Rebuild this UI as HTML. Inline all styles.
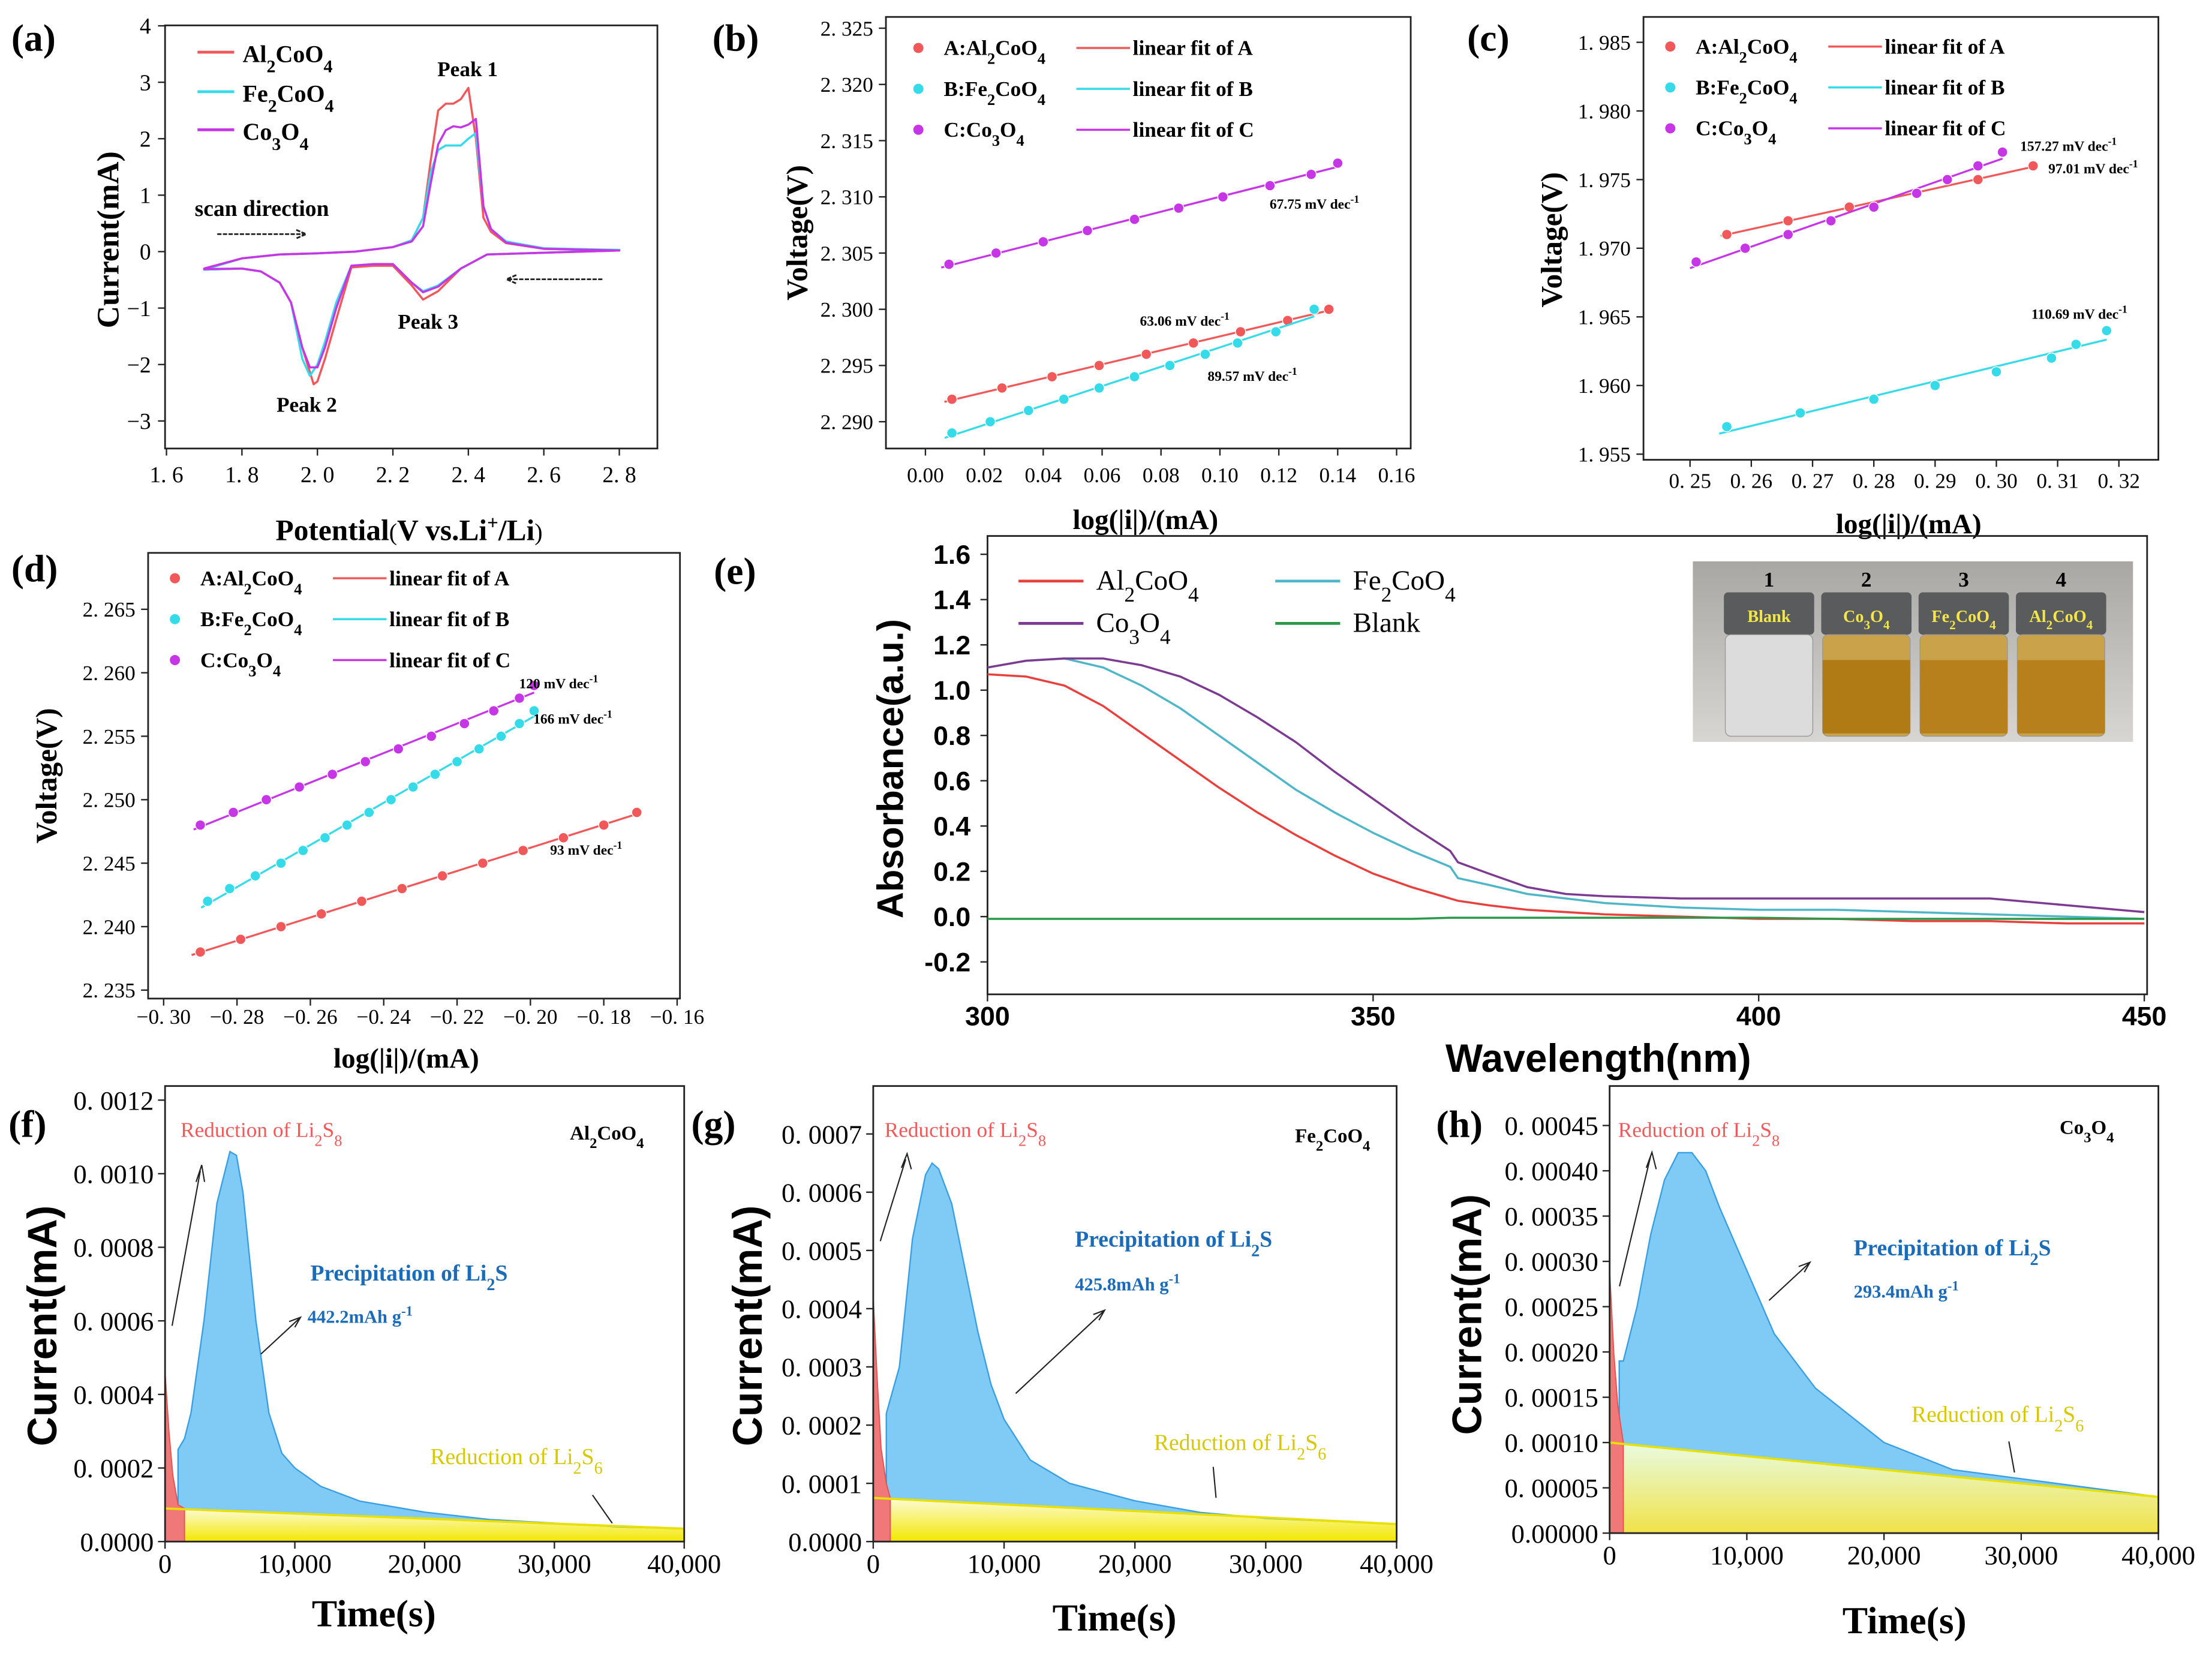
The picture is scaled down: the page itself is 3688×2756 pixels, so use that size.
<!DOCTYPE html>
<html><head><meta charset="utf-8"><style>
html,body{margin:0;padding:0;background:#fff;}
svg{display:block;}
text{font-family:"Liberation Serif",serif;}
.sans{font-family:"Liberation Sans",sans-serif;}
</style></head><body>
<svg id="fig" xmlns="http://www.w3.org/2000/svg" width="3688" height="2756" viewBox="0 0 1568 1172" preserveAspectRatio="none">
<defs>
<linearGradient id="yel" x1="0" y1="0" x2="0" y2="1"><stop offset="0" stop-color="#fdfbd8"/><stop offset="1" stop-color="#f2e800"/></linearGradient>
<linearGradient id="yelh" x1="0" y1="0" x2="0" y2="1"><stop offset="0" stop-color="#e8fbe0"/><stop offset="1" stop-color="#f0e24a"/></linearGradient>
<linearGradient id="photo" x1="0" y1="0" x2="0" y2="1"><stop offset="0" stop-color="#a9a7a3"/><stop offset="1" stop-color="#d8d6d2"/></linearGradient>
</defs>
<g font-weight="bold">
<text x="8" y="36" font-size="27">(a)</text>
<text x="505" y="36" font-size="27">(b)</text>
<text x="1040" y="36" font-size="27">(c)</text>
<text x="8" y="412" font-size="27">(d)</text>
<text x="506" y="414" font-size="27">(e)</text>
<text x="6" y="806" font-size="27">(f)</text>
<text x="490" y="806" font-size="27">(g)</text>
<text x="1018" y="806" font-size="27">(h)</text>

<text transform="translate(84,170) rotate(-90)" text-anchor="middle" font-size="22">Current(mA)</text>
<text x="290" y="383" text-anchor="middle" font-size="21">Potential<tspan font-weight="normal" font-size="17">(</tspan>V vs.Li<tspan baseline-shift="super" font-size="14">+</tspan>/Li<tspan font-weight="normal" font-size="17">)</tspan></text>
<text transform="translate(572,165) rotate(-90)" text-anchor="middle" font-size="21">Voltage(V)</text>
<text x="812" y="375" text-anchor="middle" font-size="20">log(|i|)/(mA)</text>
<text transform="translate(1107,170) rotate(-90)" text-anchor="middle" font-size="21">Voltage(V)</text>
<text x="1353" y="378" text-anchor="middle" font-size="20">log(|i|)/(mA)</text>
<text transform="translate(40,550) rotate(-90)" text-anchor="middle" font-size="21">Voltage(V)</text>
<text x="288" y="757" text-anchor="middle" font-size="20">log(|i|)/(mA)</text>
<text class="sans" transform="translate(640,545) rotate(-90)" text-anchor="middle" font-size="26">Absorbance(a.u.)</text>
<text class="sans" x="1133" y="760" text-anchor="middle" font-size="28">Wavelength(nm)</text>
<text class="sans" transform="translate(40,940) rotate(-90)" text-anchor="middle" font-size="29">Current(mA)</text>
<text x="265" y="1153" text-anchor="middle" font-size="27">Time(s)</text>
<text class="sans" transform="translate(540,940) rotate(-90)" text-anchor="middle" font-size="29">Current(mA)</text>
<text x="790" y="1156" text-anchor="middle" font-size="27">Time(s)</text>
<text class="sans" transform="translate(1050,932) rotate(-90)" text-anchor="middle" font-size="29">Current(mA)</text>
<text x="1350" y="1158" text-anchor="middle" font-size="27">Time(s)</text>
</g>
</svg>
<script>
// ---------- data ----------
const cvRedV=[1.70,1.80,1.90,2.00,2.10,2.20,2.25,2.28,2.30,2.32,2.34,2.36,2.38,2.40,2.42,2.44,2.46,2.50,2.60,2.80,2.80,2.60,2.45,2.38,2.32,2.28,2.25,2.20,2.15,2.09,2.05,2.02,2.00,1.99,1.96,1.93,1.90,1.85,1.80,1.70];
const cvRedI=[-0.30,-0.12,-0.05,-0.03,0.0,0.08,0.2,0.6,1.6,2.5,2.62,2.62,2.7,2.9,2.0,0.6,0.35,0.15,0.05,0.02,0.02,-0.02,-0.05,-0.3,-0.7,-0.85,-0.6,-0.25,-0.25,-0.28,-1.2,-1.9,-2.3,-2.35,-1.7,-0.9,-0.55,-0.35,-0.3,-0.32];
const cvFeV=[1.70,1.80,1.90,2.00,2.10,2.20,2.25,2.28,2.30,2.32,2.34,2.36,2.38,2.40,2.42,2.44,2.46,2.50,2.60,2.80,2.80,2.60,2.45,2.38,2.32,2.28,2.25,2.20,2.15,2.09,2.05,2.02,2.00,1.98,1.96,1.93,1.90,1.85,1.80,1.70];
const cvFeI=[-0.32,-0.12,-0.05,-0.03,0.0,0.08,0.2,0.6,1.4,1.8,1.88,1.88,1.88,2.0,2.1,0.8,0.4,0.18,0.06,0.03,0.03,-0.02,-0.05,-0.3,-0.6,-0.7,-0.55,-0.22,-0.22,-0.25,-0.9,-1.6,-2.0,-2.2,-1.9,-0.9,-0.55,-0.35,-0.3,-0.32];
const cvCoV=[1.70,1.80,1.90,2.00,2.10,2.20,2.25,2.28,2.30,2.32,2.34,2.36,2.38,2.40,2.42,2.44,2.46,2.50,2.60,2.80,2.80,2.60,2.45,2.38,2.32,2.28,2.25,2.20,2.15,2.09,2.05,2.02,2.00,1.98,1.96,1.93,1.90,1.85,1.80,1.70];
const cvCoI=[-0.30,-0.12,-0.05,-0.03,0.0,0.08,0.18,0.45,1.2,1.9,2.15,2.22,2.2,2.25,2.35,0.8,0.4,0.16,0.05,0.02,0.02,-0.02,-0.05,-0.3,-0.62,-0.72,-0.55,-0.22,-0.22,-0.25,-1.0,-1.7,-2.05,-2.05,-1.7,-0.9,-0.55,-0.35,-0.3,-0.31];
const cvXTicks=[1.6,1.8,2.0,2.2,2.4,2.6,2.8];
const cvYTicks=[-3,-2,-1,0,1,2,3,4];

const bAx=[0.009,0.026,0.043,0.059,0.075,0.091,0.107,0.123,0.137];
const bAy=[2.292,2.293,2.294,2.295,2.296,2.297,2.298,2.299,2.300];
const bBx=[0.009,0.022,0.035,0.047,0.059,0.071,0.083,0.095,0.106,0.119,0.132];
const bBy=[2.289,2.290,2.291,2.292,2.293,2.294,2.295,2.296,2.297,2.298,2.300];
const bCx=[0.008,0.024,0.040,0.055,0.071,0.086,0.101,0.117,0.131,0.140];
const bCy=[2.304,2.305,2.306,2.307,2.308,2.309,2.310,2.311,2.312,2.313];
const bXTicks=[0,0.02,0.04,0.06,0.08,0.10,0.12,0.14,0.16];
const bYTicks=[2.290,2.295,2.300,2.305,2.310,2.315,2.320,2.325];

const cAx=[0.256,0.266,0.276,0.287,0.297,0.306];
const cAy=[1.971,1.972,1.973,1.974,1.975,1.976];
const cBx=[0.256,0.268,0.280,0.290,0.300,0.309,0.313,0.318];
const cBy=[1.957,1.958,1.959,1.960,1.961,1.962,1.963,1.964];
const cCx=[0.251,0.259,0.266,0.273,0.280,0.287,0.292,0.297,0.301];
const cCy=[1.969,1.970,1.971,1.972,1.973,1.974,1.975,1.976,1.977];
const cXTicks=[0.25,0.26,0.27,0.28,0.29,0.30,0.31,0.32];
const cYTicks=[1.955,1.960,1.965,1.970,1.975,1.980,1.985];

const dAx=[-0.290,-0.279,-0.268,-0.257,-0.246,-0.235,-0.224,-0.213,-0.202,-0.191,-0.180,-0.171];
const dAy=[2.238,2.239,2.240,2.241,2.242,2.243,2.244,2.245,2.246,2.247,2.248,2.249];
const dBx=[-0.288,-0.282,-0.275,-0.268,-0.262,-0.256,-0.250,-0.244,-0.238,-0.232,-0.226,-0.220,-0.214,-0.208,-0.203,-0.199];
const dBy=[2.242,2.243,2.244,2.245,2.246,2.247,2.248,2.249,2.250,2.251,2.252,2.253,2.254,2.255,2.256,2.257];
const dCx=[-0.290,-0.281,-0.272,-0.263,-0.254,-0.245,-0.236,-0.227,-0.218,-0.210,-0.203,-0.199];
const dCy=[2.248,2.249,2.250,2.251,2.252,2.253,2.254,2.255,2.256,2.257,2.258,2.259];
const dXTicks=[-0.30,-0.28,-0.26,-0.24,-0.22,-0.20,-0.18,-0.16];
const dYTicks=[2.235,2.240,2.245,2.250,2.255,2.260,2.265];

const wl=[300,305,310,315,320,325,330,335,340,345,350,355,360,361,365,370,375,380,390,400,410,420,430,440,450];
const absAl=[1.07,1.06,1.02,0.93,0.81,0.69,0.57,0.46,0.36,0.27,0.19,0.13,0.08,0.07,0.05,0.03,0.02,0.01,0.0,-0.01,-0.01,-0.02,-0.02,-0.03,-0.03];
const absFe=[1.10,1.13,1.14,1.10,1.02,0.92,0.80,0.68,0.56,0.46,0.37,0.29,0.22,0.17,0.14,0.10,0.08,0.06,0.04,0.03,0.03,0.02,0.01,0.0,-0.01];
const absCo=[1.10,1.13,1.14,1.14,1.11,1.06,0.98,0.88,0.77,0.64,0.52,0.40,0.29,0.24,0.19,0.13,0.10,0.09,0.08,0.08,0.08,0.08,0.08,0.05,0.02];
const absBlank=[-0.01,-0.01,-0.01,-0.01,-0.01,-0.01,-0.01,-0.01,-0.01,-0.01,-0.01,-0.01,-0.005,-0.005,-0.005,-0.005,-0.005,-0.005,-0.005,-0.005,-0.01,-0.01,-0.01,-0.01,-0.01];
const eXTicks=[300,350,400,450];
const eYTicks=[-0.2,0,0.2,0.4,0.6,0.8,1.0,1.2,1.4,1.6];

const fRedT=[0,300,600,1000,1500];
const fRedI=[0.00046,0.0003,0.00018,0.0001,0.00009];
const fBlueT=[1000,1500,2000,3000,4000,5000,5500,6000,7000,8000,9000,10000,12000,15000,20000,25000,30000,35000,40000];
const fBlueI=[0.00025,0.00028,0.00035,0.0006,0.00092,0.00106,0.00105,0.00095,0.0006,0.00035,0.00024,0.0002,0.00015,0.00011,0.00008,0.00006,0.00005,0.00004,0.000035];
const fBaseT=[0,40000];
const fBaseI=[0.00009,0.000035];
const fYTicks=[0,0.0002,0.0004,0.0006,0.0008,0.0010,0.0012];

const gRedT=[0,300,600,1000,1300];
const gRedI=[0.00042,0.00028,0.00016,0.0001,0.000075];
const gBlueT=[1000,2000,3000,4000,4500,5000,6000,7000,8000,9000,10000,12000,15000,20000,25000,30000,40000];
const gBlueI=[0.00022,0.0003,0.00052,0.00063,0.00065,0.00064,0.00058,0.00047,0.00036,0.00027,0.00021,0.00014,0.0001,0.00007,0.00005,0.00004,0.00003];
const gBaseT=[0,40000];
const gBaseI=[0.000075,0.00003];
const gYTicks=[0,0.0001,0.0002,0.0003,0.0004,0.0005,0.0006,0.0007];

const hRedT=[0,300,600,1000];
const hRedI=[0.00029,0.0002,0.00014,0.0001];
const hBlueT=[700,1000,2000,3000,4000,5000,6000,7000,8000,10000,12000,15000,20000,25000,30000,40000];
const hBlueI=[0.00019,0.00019,0.00025,0.00033,0.00039,0.00042,0.00042,0.0004,0.00036,0.00029,0.00022,0.00016,0.0001,0.00007,0.00006,0.00004];
const hBaseT=[0,40000];
const hBaseI=[0.0001,0.00004];
const hYTicks=[0,0.00005,0.0001,0.00015,0.0002,0.00025,0.0003,0.00035,0.0004,0.00045];
const tXTicks=[0,10000,20000,30000,40000];

// ---------- helpers ----------
const NS='http://www.w3.org/2000/svg';
const svg=document.getElementById('fig');
function mk(tag,attrs,parent){const e=document.createElementNS(NS,tag);for(const k in attrs)e.setAttribute(k,attrs[k]);(parent||svg).appendChild(e);return e;}
function lin(d0,d1,r0,r1){return v=>r0+(v-d0)*(r1-r0)/(d1-d0);}
function pd(xs,ys,sx,sy){return xs.map((x,i)=>(i?'L':'M')+sx(x).toFixed(2)+','+sy(ys[i]).toFixed(2)).join('');}
function spaced(s){return s.replace('.','. ');}
function axes(p,box,sx,sy,xt,yt,fx,fy,o){
  const g=mk('g',{});
  
  
  const fr=mk('rect',{x:box[0],y:box[1],width:box[2]-box[0],height:box[3]-box[1],fill:'none',stroke:'#222','stroke-width':1.2},g);
  
  
  xt.forEach(v=>{const x=sx(v);
    mk('line',{x1:x,x2:x,y1:box[3],y2:box[3]+5,stroke:'#222'},g);
    const t=mk('text',{x:x,y:box[3]+o.xo,'text-anchor':'middle','font-size':o.fs,'font-weight':o.fw||'normal','class':o.cls||''},g);
    t.textContent=fx(v);
    
    
  });
  yt.forEach(v=>{const y=sy(v);
    mk('line',{x1:box[0],x2:box[0]-5,y1:y,y2:y,stroke:'#222'},g);
    const t=mk('text',{x:box[0]-o.yo,y:y+o.fs*0.35,'text-anchor':'end','font-size':o.fs,'font-weight':o.fw||'normal','class':o.cls||''},g);
    t.textContent=fy(v);
    
    
  });
}
function fit(xs,ys){const n=xs.length;let mx=0,my=0;xs.forEach((x,i)=>{mx+=x;my+=ys[i];});mx/=n;my/=n;let a=0,b=0;xs.forEach((x,i)=>{a+=(x-mx)*(ys[i]-my);b+=(x-mx)*(x-mx);});const k=a/b;return [k,my-k*mx];}
function series(p,name,xs,ys,sx,sy,col){
  const [k,c]=fit(xs,ys);
  const x0=xs[0]-(xs[xs.length-1]-xs[0])*0.02, x1=xs[xs.length-1];
  const l=mk('line',{x1:sx(x0),y1:sy(k*x0+c),x2:sx(x1),y2:sy(k*x1+c),stroke:col,'stroke-width':1.4});
  
  
  xs.forEach((x,i)=>{
    const d=mk('circle',{cx:sx(x),cy:sy(ys[i]),r:3.6,fill:col,stroke:'#fff','stroke-width':0.6});
    
    
  });
}
function txt(x,y,s,attrs,name){const t=mk('text',Object.assign({x:x,y:y},attrs));t.innerHTML=s;
  
  
  return t;}
const SUB=(n)=>'<tspan baseline-shift="sub" font-size="75%">'+n+'</tspan>';
const RED='#f0585a', CYAN='#35dbe8', MAG='#c636e6';

// ---------- (a) CV ----------
(function(){
  const box=[117,18,466,318];
  const sx=lin(1.6,2.8,118,439), sy=lin(0,4,178.4,18.3);
  axes('a',box,sx,sy,cvXTicks,cvYTicks,v=>spaced(v.toFixed(1)),v=>v<0?'−'+(-v):String(v),{fs:16,xo:24,yo:10});
  [[cvRedV,cvRedI,RED,'al2coo4'],[cvFeV,cvFeI,CYAN,'fe2coo4'],[cvCoV,cvCoI,MAG,'co3o4']].forEach(s=>{
    const p=mk('path',{d:pd(s[0],s[1],sx,sy)+'Z',fill:'none',stroke:s[2],'stroke-width':1.5,'stroke-linejoin':'round'});
    
    
  });
  [[RED,'Al'+SUB(2)+'CoO'+SUB(4),42],[CYAN,'Fe'+SUB(2)+'CoO'+SUB(4),70],[MAG,'Co'+SUB(3)+'O'+SUB(4),97]].forEach((l,i)=>{
    const ln=mk('line',{x1:140,x2:166,y1:l[2]-5,y2:l[2]-5,stroke:l[0],'stroke-width':2});
    
    
    txt(172,l[2]+2,l[1],{'font-size':17,'font-weight':'bold'},'a-legend-label');
  });
  txt(310,54,'Peak 1',{'font-size':15,'font-weight':'bold'},'a-peak1-label');
  txt(196,292,'Peak 2',{'font-size':15,'font-weight':'bold'},'a-peak2-label');
  txt(282,233,'Peak 3',{'font-size':15,'font-weight':'bold'},'a-peak3-label');
  txt(138,153,'scan direction',{'font-size':16,'font-weight':'bold'},'a-scan-direction-label');
  mk('path',{d:'M154,166 L216,166 M210,163 L217,166 L210,169',stroke:'#222',fill:'none','stroke-width':1.2,'stroke-dasharray':'3 1'});
  mk('path',{d:'M427,198 L360,198 M366,195 L359,198 L366,201',stroke:'#222',fill:'none','stroke-width':1.2,'stroke-dasharray':'3 1'});
})();

// legend for b,c,d
function lsLegend(p,x,y,dy){
  [[RED,'A:Al'+SUB(2)+'CoO'+SUB(4),'linear fit of A'],[CYAN,'B:Fe'+SUB(2)+'CoO'+SUB(4),'linear fit of B'],[MAG,'C:Co'+SUB(3)+'O'+SUB(4),'linear fit of C']].forEach((l,i)=>{
    const yy=y+i*dy;
    const c=mk('circle',{cx:x,cy:yy-5,r:3.6,fill:l[0]});
    
    
    txt(x+18,yy,l[1],{'font-size':15,'font-weight':'bold'},p+'-legend-label');
    const ln=mk('line',{x1:x+112,x2:x+150,y1:yy-5,y2:yy-5,stroke:l[0],'stroke-width':1.5});
    
    
    txt(x+152,yy,l[2],{'font-size':15,'font-weight':'bold'},p+'-legend-fit-label');
  });
}
const SUP='<tspan baseline-shift="super" font-size="75%">-1</tspan>';
// ---------- (b) ----------
(function(){
  const box=[628,12,1000,318];
  const sx=lin(0,0.16,656,990), sy=lin(2.29,2.325,299,20);
  axes('b',box,sx,sy,bXTicks,bYTicks,v=>v.toFixed(2),v=>spaced(v.toFixed(3)),{fs:15,xo:24,yo:9});
  series('b','A',bAx,bAy,sx,sy,RED);series('b','B',bBx,bBy,sx,sy,CYAN);series('b','C',bCx,bCy,sx,sy,MAG);
  lsLegend('b',651,39,29);
  txt(900,148,'67.75 mV dec'+SUP,{'font-size':10,'font-weight':'bold'},'b-slope-c');
  txt(808,231,'63.06 mV dec'+SUP,{'font-size':10,'font-weight':'bold'},'b-slope-a');
  txt(856,270,'89.57 mV dec'+SUP,{'font-size':10,'font-weight':'bold'},'b-slope-b');
})();
// ---------- (c) ----------
(function(){
  const box=[1165,12,1530,326];
  const sx=lin(0.25,0.32,1198,1502), sy=lin(1.955,1.985,322,30);
  axes('c',box,sx,sy,cXTicks,cYTicks,v=>spaced(v.toFixed(2)),v=>spaced(v.toFixed(3)),{fs:15,xo:20,yo:9});
  series('c','A',cAx,cAy,sx,sy,RED);series('c','B',cBx,cBy,sx,sy,CYAN);series('c','C',cCx,cCy,sx,sy,MAG);
  lsLegend('c',1184,38,29);
  txt(1432,107,'157.27 mV dec'+SUP,{'font-size':10,'font-weight':'bold'},'c-slope-c');
  txt(1452,123,'97.01 mV dec'+SUP,{'font-size':10,'font-weight':'bold'},'c-slope-a');
  txt(1440,226,'110.69 mV dec'+SUP,{'font-size':10,'font-weight':'bold'},'c-slope-b');
})();
// ---------- (d) ----------
(function(){
  const box=[105,392,482,708];
  const sx=lin(-0.30,-0.16,116,480), sy=lin(2.235,2.265,702,432);
  axes('d',box,sx,sy,dXTicks,dYTicks,v=>'−'+spaced((-v).toFixed(2)),v=>spaced(v.toFixed(3)),{fs:15,xo:18,yo:9});
  series('d','A',dAx,dAy,sx,sy,RED);series('d','B',dBx,dBy,sx,sy,CYAN);series('d','C',dCx,dCy,sx,sy,MAG);
  lsLegend('d',124,415,29);
  txt(368,488,'120 mV dec'+SUP,{'font-size':10,'font-weight':'bold'},'d-slope-c');
  txt(378,513,'166 mV dec'+SUP,{'font-size':10,'font-weight':'bold'},'d-slope-b');
  txt(390,606,'93 mV dec'+SUP,{'font-size':10,'font-weight':'bold'},'d-slope-a');
})();
// ---------- (e) ----------
(function(){
  const box=[700,380,1522,705];
  const sx=lin(300,450,700,1520), sy=lin(-0.2,1.6,682,393);
  axes('e',box,sx,sy,eXTicks,eYTicks,v=>String(v),v=>v<0?'-'+(-v).toFixed(1):v.toFixed(1),{fs:19,xo:22,yo:12,fw:'bold',cls:'sans'});
  [[absAl,'#e8403c','al2coo4'],[absFe,'#4fb6c8','fe2coo4'],[absCo,'#7d3a92','co3o4'],[absBlank,'#2a9a4a','blank']].forEach(s=>{
    const p=mk('path',{d:pd(wl,s[0],sx,sy),fill:'none',stroke:s[1],'stroke-width':1.5});
    
    
  });
  [['#e8403c','Al'+SUB(2)+'CoO'+SUB(4),722,418],['#7d3a92','Co'+SUB(3)+'O'+SUB(4),722,448],['#4fb6c8','Fe'+SUB(2)+'CoO'+SUB(4),904,418],['#2a9a4a','Blank',904,448]].forEach(l=>{
    const ln=mk('line',{x1:l[2],x2:l[2]+46,y1:l[3]-6,y2:l[3]-6,stroke:l[0],'stroke-width':2});
    
    
    txt(l[2]+55,l[3],l[1],{'font-size':20},'e-legend-label');
  });
  const ph=mk('g',{});
  
  
  mk('rect',{x:1200,y:398,width:312,height:128,fill:'url(#photo)'},ph);
  const labs=['Blank','Co'+SUB(3)+'O'+SUB(4),'Fe'+SUB(2)+'CoO'+SUB(4),'Al'+SUB(2)+'CoO'+SUB(4)];
  labs.forEach((lb,i)=>{
    const x=1222+i*69;
    mk('rect',{x:x,y:420,width:64,height:30,rx:3,fill:'#5a5b5c'},ph);
    mk('rect',{x:x+1,y:450,width:62,height:72,rx:4,fill:i?'#c9a24a':'#dcdcdc',stroke:'#999','stroke-width':0.6},ph);
    if(i) mk('rect',{x:x+1,y:468,width:62,height:52,fill:i===1?'#b07a14':'#b8801c'},ph);
    txt(x+32,416,String(i+1),{'font-size':15,'font-weight':'bold','text-anchor':'middle'},'e-vial-number');
    txt(x+32,441,lb,{'font-size':12,'font-weight':'bold','text-anchor':'middle',fill:'#f2e64a'},'e-vial-label');
  });
})();
// ---------- f, g, h ----------
function tPanel(p,box,yMax,yTop,yTicks,fy,red,blue,base,yfill,ann){
  const sx=lin(0,40000,box[0],box[2]), sy=lin(0,yMax,box[3],yTop);
  const bl=t=>base[1][0]+(t-base[0][0])*(base[1][1]-base[1][0])/(base[0][1]-base[0][0]);
  const y0=sy(0);
  const ya=mk('path',{d:pd(base[0],base[1],sx,sy)+'L'+sx(40000)+','+y0+'L'+sx(0)+','+y0+'Z',fill:yfill,stroke:'none'});
  
  
  const bt=blue[0], bi=blue[1];
  const back=bt.slice().reverse();
  const bd=pd(bt,bi,sx,sy)+back.map(t=>'L'+sx(t).toFixed(2)+','+sy(bl(t)).toFixed(2)).join('')+'Z';
  const ba=mk('path',{d:bd,fill:'#7fcbf6',stroke:'#3a9fe2','stroke-width':1});
  
  
  const ra=mk('path',{d:pd(red[0],red[1],sx,sy)+'L'+sx(red[0][red[0].length-1])+','+y0+'L'+sx(0)+','+y0+'Z',fill:'#f07878',stroke:'#e85050','stroke-width':0.8});
  
  
  const bline=mk('path',{d:pd(base[0],base[1],sx,sy),fill:'none',stroke:'#e8e000','stroke-width':1.6});
  
  
  axes(p,box,sx,sy,tXTicks,yTicks,v=>v===0?'0':(v/1000)+',000',fy,{fs:19,xo:22,yo:8,cls:''});
  ann(sx,sy);
}
const fmt4=v=>v===0?'0.0000':'0. '+v.toFixed(4).slice(2);
tPanel('f',[117,770,485,1093],0.0012,780,fYTicks,fmt4,[fRedT,fRedI],[fBlueT,fBlueI],[fBaseT,fBaseI],'url(#yel)',(sx,sy)=>{
  txt(128,806,'Reduction of Li'+SUB(2)+'S'+SUB(8),{'font-size':15,fill:'#f05a5a'},'f-li2s8-label');
  txt(404,808,'Al'+SUB(2)+'CoO'+SUB(4),{'font-size':14,'font-weight':'bold'},'f-sample-label');
  txt(220,908,'Precipitation of Li'+SUB(2)+'S',{'font-size':16,'font-weight':'bold',fill:'#1a6bb8'},'f-li2s-label');
  txt(218,938,'442.2mAh g'+SUP,{'font-size':13,'font-weight':'bold',fill:'#1a6bb8'},'f-capacity-label');
  txt(305,1038,'Reduction of Li'+SUB(2)+'S'+SUB(6),{'font-size':16,fill:'#d8c800'},'f-li2s6-label');
  mk('path',{d:'M122,940 L142,830 M139,838 L143,826 L145,838 M185,960 L212,935 M205,937 L213,934 L209,941 M434,1080 L420,1060',stroke:'#222',fill:'none','stroke-width':0.9});
});
tPanel('g',[619,770,990,1093],0.0007,804,gYTicks,fmt4,[gRedT,gRedI],[gBlueT,gBlueI],[gBaseT,gBaseI],'url(#yel)',(sx,sy)=>{
  txt(627,806,'Reduction of Li'+SUB(2)+'S'+SUB(8),{'font-size':15,fill:'#f05a5a'},'g-li2s8-label');
  txt(918,810,'Fe'+SUB(2)+'CoO'+SUB(4),{'font-size':14,'font-weight':'bold'},'g-sample-label');
  txt(762,884,'Precipitation of Li'+SUB(2)+'S',{'font-size':16,'font-weight':'bold',fill:'#1a6bb8'},'g-li2s-label');
  txt(762,915,'425.8mAh g'+SUP,{'font-size':13,'font-weight':'bold',fill:'#1a6bb8'},'g-capacity-label');
  txt(818,1028,'Reduction of Li'+SUB(2)+'S'+SUB(6),{'font-size':16,fill:'#d8c800'},'g-li2s6-label');
  mk('path',{d:'M624,880 L642,822 M639,828 L643,818 L646,829 M720,988 L782,930 M775,932 L783,929 L779,936 M862,1062 L860,1040',stroke:'#222',fill:'none','stroke-width':0.9});
});
tPanel('h',[1141,770,1530,1087],0.00045,798,hYTicks,v=>v===0?'0.00000':'0. '+v.toFixed(5).slice(2),[hRedT,hRedI],[hBlueT,hBlueI],[hBaseT,hBaseI],'url(#yelh)',(sx,sy)=>{
  txt(1147,806,'Reduction of Li'+SUB(2)+'S'+SUB(8),{'font-size':15,fill:'#f05a5a'},'h-li2s8-label');
  txt(1460,804,'Co'+SUB(3)+'O'+SUB(4),{'font-size':14,'font-weight':'bold'},'h-sample-label');
  txt(1314,890,'Precipitation of Li'+SUB(2)+'S',{'font-size':16,'font-weight':'bold',fill:'#1a6bb8'},'h-li2s-label');
  txt(1314,920,'293.4mAh g'+SUP,{'font-size':13,'font-weight':'bold',fill:'#1a6bb8'},'h-capacity-label');
  txt(1355,1008,'Reduction of Li'+SUB(2)+'S'+SUB(6),{'font-size':16,fill:'#d8c800'},'h-li2s6-label');
  mk('path',{d:'M1148,912 L1170,820 M1167,828 L1171,817 L1174,829 M1254,922 L1282,896 M1275,898 L1283,895 L1279,902 M1428,1044 L1424,1022',stroke:'#222',fill:'none','stroke-width':0.9});
});
</script>
</body></html>
